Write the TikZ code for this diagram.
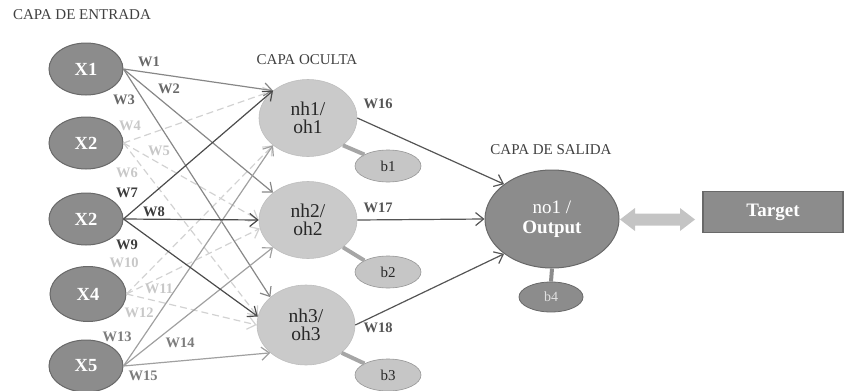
\documentclass[tikz,border=0pt]{standalone}
\usepackage{fontspec}
\setmainfont{Liberation Serif}
\usetikzlibrary{shapes.geometric,arrows.meta}
\definecolor{inp}{RGB}{140,140,140}
\definecolor{inpb}{RGB}{105,105,105}
\definecolor{hid}{RGB}{202,202,202}
\definecolor{hidb}{RGB}{190,190,190}
\definecolor{bia}{RGB}{198,198,198}
\definecolor{biab}{RGB}{150,150,150}
\definecolor{bline}{RGB}{166,166,166}
\definecolor{txt}{RGB}{40,40,40}
\definecolor{hdrc}{RGB}{64,64,64}
\definecolor{ca}{RGB}{135,135,135}
\definecolor{cb}{RGB}{210,210,210}
\definecolor{cc}{RGB}{75,75,75}
\definecolor{cd}{RGB}{160,160,160}
\definecolor{ce}{RGB}{85,85,85}
\definecolor{dac}{RGB}{196,196,196}
\definecolor{la}{RGB}{105,105,105}
\definecolor{lb}{RGB}{200,200,200}
\definecolor{lc}{RGB}{60,60,60}
\definecolor{ld}{RGB}{125,125,125}
\definecolor{le}{RGB}{85,85,85}
\begin{document}
\begin{tikzpicture}[x=1pt,y=-1pt,
  inode/.style={ellipse, draw=inpb, fill=inp, line width=1pt, minimum width=74pt, minimum height=52pt, inner sep=0pt, text=white, font=\fontsize{18.5}{18.5}\selectfont\bfseries},
  hnode/.style={ellipse, fill=hid, draw=hidb, line width=0.6pt, minimum width=98pt, minimum height=77pt, inner sep=0pt, align=center, text=txt, font=\fontsize{19.5}{18}\selectfont},
  bnode/.style={ellipse, fill=bia, draw=biab, line width=0.6pt, minimum width=66pt, minimum height=32pt, inner sep=0pt, text=txt, font=\fontsize{15}{15}\selectfont},
  wlab/.style={inner sep=0pt, font=\fontsize{14.5}{14.5}\selectfont\bfseries},
  hdr/.style={inner sep=0pt, text=hdrc, font=\fontsize{15}{15}\selectfont},
  arr/.style={-{Straight Barb[length=8pt,width=13pt]}, line width=1.2pt},
  dsh/.style={arr, color=cb, dash pattern=on 7pt off 4pt},
  biasln/.style={line width=4pt, color=bline}
]
\useasboundingbox (0,0) rectangle (844,391);

% headers
\node[hdr] (h1) at (82,15) {CAPA DE ENTRADA};
\node[hdr] (h2) at (307,60) {CAPA OCULTA};
\node[hdr] (h3) at (551,150) {CAPA DE SALIDA};

% input nodes
\node[inode] (x1) at (86,69) {X1};
\node[inode] (x2a) at (86,143) {X2};
\node[inode] (x2b) at (86,219) {X2};
\node[inode, minimum width=76pt, minimum height=55pt] (x4) at (88,294) {X4};
\node[inode] (x5) at (86,366) {X5};

% hidden nodes
\node[hnode] (n1) at (308,118) {nh1/\\oh1};
\node[hnode] (n2) at (308,220) {nh2/\\oh2};
\node[hnode, minimum height=80pt] (n3) at (306,325) {nh3/\\oh3};

% biases
\node[bnode] (b1) at (388,166) {b1};
\node[bnode] (b2) at (388,272) {b2};
\node[bnode] (b3) at (388,375) {b3};

% output
\node[ellipse, draw=inpb, fill=inp, line width=1pt, minimum width=134pt, minimum height=98pt, inner sep=0pt, align=center, text=white, font=\fontsize{19}{20}\selectfont] (out) at (552,219) {no1 /\\\textbf{Output}};
\node[ellipse, draw=inpb, fill=inp, line width=0.8pt, minimum width=64pt, minimum height=30pt, inner sep=0pt, text={rgb,255:red,225;green,225;blue,225}, font=\fontsize{14}{14}\selectfont] (b4) at (551,297) {b4};
\node[rectangle, draw=inpb, fill=inp, line width=1.5pt, minimum width=140pt, minimum height=41pt, inner sep=0pt, text=white, font=\fontsize{19}{19}\selectfont\bfseries] (tg) at (773,212) {Target};

% bias connectors
\draw[biasln] (n1.-38) -- (b1.154);
\draw[biasln] (n2.-38) -- (b2.154);
\draw[biasln] (n3.-38) -- (b3.154);
\draw[line width=4pt, color=inp] (out.south) -- (b4.north);

% double arrow
\fill[dac] (620,219.5) -- (635,208) -- (635,213.5) -- (680,213.5) -- (680,208) -- (695,219.5) -- (680,231) -- (680,225.5) -- (635,225.5) -- (635,231) -- cycle;

% dashed edges (X2a, X4)
\draw[dsh] (x2a.east) -- (n1.142);
\draw[dsh] (x2a.east) -- (n2.180);
\draw[dsh] (x2a.east) -- (n3.170);
\draw[dsh] (x4.east) -- (n1.218);
\draw[dsh] (x4.east) -- (n2.190);
\draw[dsh] (x4.east) -- (n3.180);

% X1 edges
\draw[arr, color=ca] (x1.east) -- (n1.142);
\draw[arr, color=ca] (x1.east) -- (n2.142);
\draw[arr, color=ca] (x1.east) -- (n3.142);
% X5 edges
\draw[arr, color=cd] (x5.east) -- (n1.218);
\draw[arr, color=cd] (x5.east) -- (n2.218);
\draw[arr, color=cd] (x5.east) -- (n3.218);
% X2b edges
\draw[arr, color=cc] (x2b.east) -- (n1.142);
\draw[arr, color=cc] (x2b.east) -- (n2.west);
\draw[arr, color=cc] (x2b.east) -- (n3.170);
% hidden to output
\draw[arr, color=ce] (n1.east) -- (out.144);
\draw[arr, color=ce] (n2.east) -- (out.west);
\draw[arr, color=ce] (n3.east) -- (out.216);

% weight labels
\node[wlab, text=la] (w1) at (149,62) {W1};
\node[wlab, text=la] (w2) at (169,89) {W2};
\node[wlab, text=la] (w3) at (124,100) {W3};
\node[wlab, text=lb] (w4) at (130,126) {W4};
\node[wlab, text=lb] (w5) at (159,151) {W5};
\node[wlab, text=lb] (w6) at (127,173) {W6};
\node[wlab, text=lc] (w7) at (127,193) {W7};
\node[wlab, text=lc] (w8) at (154,212) {W8};
\node[wlab, text=lc] (w9) at (127,245) {W9};
\node[wlab, text=lb] (w10) at (124,263) {W10};
\node[wlab, text=lb] (w11) at (159,289) {W11};
\node[wlab, text=lb] (w12) at (139,313) {W12};
\node[wlab, text=ld] (w13) at (117,337) {W13};
\node[wlab, text=ld] (w14) at (180,343) {W14};
\node[wlab, text=ld] (w15) at (143,376) {W15};
\node[wlab, text=le] (w16) at (378,104) {W16};
\node[wlab, text=le] (w17) at (378,208) {W17};
\node[wlab, text=le] (w18) at (378,328) {W18};
\end{tikzpicture}
\end{document}
